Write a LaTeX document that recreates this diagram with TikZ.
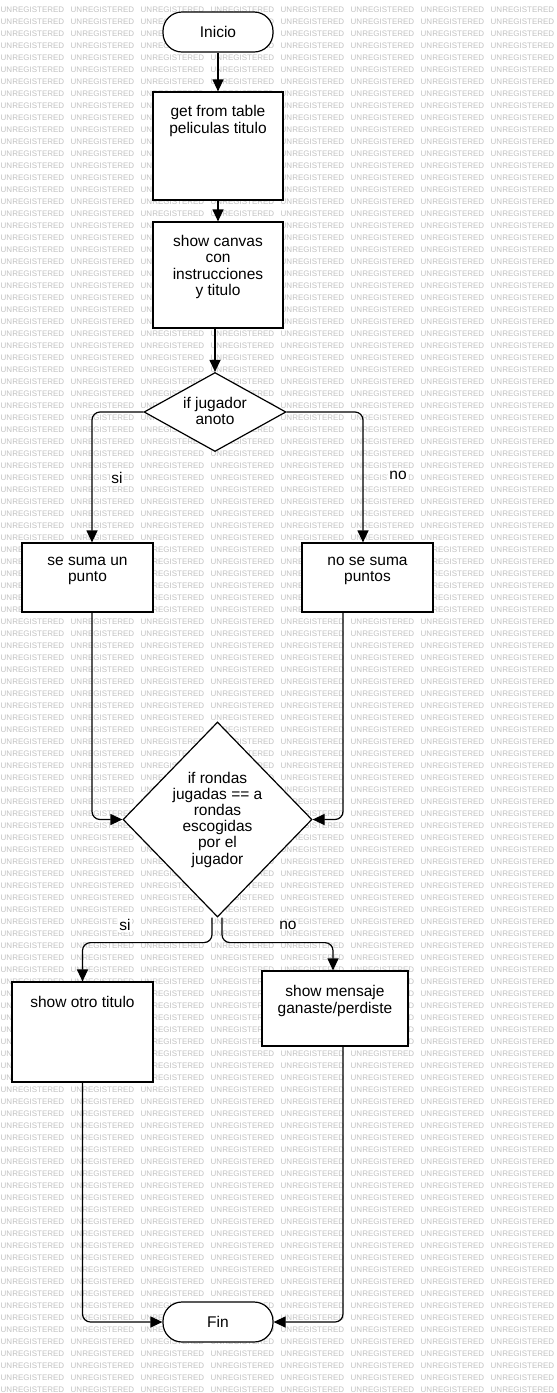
\documentclass[tikz,border=0pt]{standalone}
\usepackage{fontspec}
\setmainfont{Liberation Sans}
\usetikzlibrary{arrows.meta,shapes.geometric}
\begin{document}
\begin{tikzpicture}[x=1pt,y=-1pt,
  wm/.style={anchor=west,inner sep=0pt,text=black!24,font=\fontsize{8}{9}\selectfont},
  term/.style={draw,line width=1.2pt,fill=white,rounded corners=19pt,minimum width=110pt,minimum height=40pt,inner sep=0pt,font=\fontsize{15.5}{16.2}\selectfont},
  box/.style={draw,line width=1.2pt,fill=white,inner sep=0pt},
  dia/.style={draw,line width=1.2pt,fill=white,diamond,inner sep=0pt},
  txt/.style={align=center,inner sep=0pt,font=\fontsize{15.5}{16.2}\selectfont},
  lbl/.style={fill=white,inner sep=1pt,font=\fontsize{15.5}{16.2}\selectfont},
  arr/.style={line width=1.2pt,-{Triangle[length=12pt,width=11pt]},rounded corners=8pt}
]
% page and background
\useasboundingbox (0,0) rectangle (557,1393);
\fill[white] (0,0) rectangle (557,1393);
\foreach \r in {0,...,115}{
  \foreach \c in {0,...,7}{
    \node[wm] (wm-\r-\c) at (\c*70+0.5, 9.3+12*\r) {UNREGISTERED};
  }
}

% terminals
\node[term] (inicio) at (218,32) {Inicio};
\node[term] (fin) at (218,1322) {Fin};

% process boxes
\node[box,minimum width=130pt,minimum height=108pt] (b1) at (218,146) {};
\node[txt] (t1) at (218,121) {get from table\\peliculas titulo};
\node[box,minimum width=130pt,minimum height=106pt] (b2) at (218,275) {};
\node[txt] (t2) at (218,267) {show canvas\\con\\instrucciones\\y titulo};

% first decision
\node[dia,minimum width=142pt,minimum height=79pt] (d1) at (215,412) {};
\node[txt] (td1) at (215,411) {if jugador\\anoto};

\node[box,minimum width=131pt,minimum height=69pt] (sa) at (87.5,577.5) {};
\node[txt] (tsa) at (87.5,571) {se suma un\\punto};
\node[box,minimum width=131pt,minimum height=69pt] (sn) at (367.5,577.5) {};
\node[txt] (tsn) at (367.5,571) {no se suma\\puntos};

% second decision
\node[dia,minimum width=189pt,minimum height=195pt] (d2) at (217.5,819.5) {};
\node[txt] (td2) at (217.5,819.5) {if rondas\\jugadas == a\\rondas\\escogidas\\por el\\jugador};

\node[box,minimum width=141pt,minimum height=100pt] (so) at (82.5,1032) {};
\node[txt] (tso) at (82.5,1002) {show otro titulo};
\node[box,minimum width=146pt,minimum height=75pt] (sm) at (335,1008.5) {};
\node[txt] (tsm) at (335,1001) {show mensaje\\ganaste/perdiste};

% connectors
\draw[arr] (inicio.south) -- (b1.north);
\draw[arr] (b1.south) -- (b2.north);
\draw[arr] (b2.south -| d1.north) -- (d1.north);
\draw[arr] (d1.west) -| ([xshift=4.5pt]sa.north);
\draw[arr] (d1.east) -| ([xshift=-4.5pt]sn.north);
\draw[arr] ([xshift=4.5pt]sa.south) |- (d2.west);
\draw[arr] ([xshift=-24.5pt]sn.south) |- (d2.east);
\draw[arr] ([xshift=-5.5pt]d2.south) -- ++(0,25) -| (so.north);
\draw[arr] ([xshift=4.5pt]d2.south) -- ++(0,25) -| ([xshift=-2pt]sm.north);
\draw[arr] (so.south) |- (fin.west);
\draw[arr] ([xshift=8pt]sm.south) |- (fin.east);

% branch labels
\node[lbl] (l1) at (117,478) {si};
\node[lbl] (l2) at (398,475) {no};
\node[lbl] (l3) at (125,925) {si};
\node[lbl] (l4) at (288,925) {no};
\end{tikzpicture}
\end{document}
